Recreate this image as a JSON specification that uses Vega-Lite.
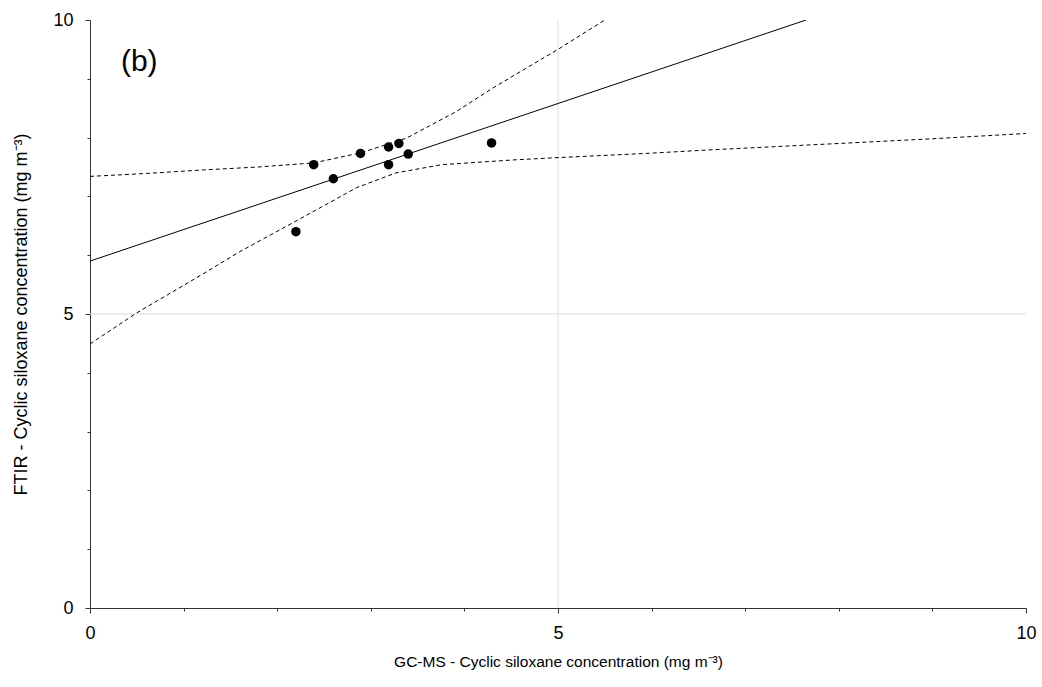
{
  "$schema": "https://vega.github.io/schema/vega-lite/v6.json",
  "width": 936,
  "height": 588,
  "autosize": {"type": "none"},
  "padding": {"left": 90, "top": 20, "right": 16, "bottom": 79},
  "background": "white",
  "config": {"view": {"stroke": null}, "font": "Liberation Sans"},
  "datasets": {
    "points": [
      {"gcms": 2.20, "ftir": 6.40},
      {"gcms": 2.39, "ftir": 7.54},
      {"gcms": 2.60, "ftir": 7.30},
      {"gcms": 2.89, "ftir": 7.73},
      {"gcms": 3.19, "ftir": 7.84},
      {"gcms": 3.30, "ftir": 7.90},
      {"gcms": 3.19, "ftir": 7.54},
      {"gcms": 3.40, "ftir": 7.72},
      {"gcms": 4.29, "ftir": 7.91}
    ],
    "fit": [
      {"gcms": 0, "ftir": 5.9},
      {"gcms": 7.65, "ftir": 10.0}
    ],
    "upper": [
      {"gcms": 0.0, "ftir": 7.34},
      {"gcms": 0.6, "ftir": 7.39},
      {"gcms": 1.21, "ftir": 7.45},
      {"gcms": 1.8, "ftir": 7.50},
      {"gcms": 2.39, "ftir": 7.57},
      {"gcms": 2.89, "ftir": 7.74},
      {"gcms": 3.38, "ftir": 7.99},
      {"gcms": 3.91, "ftir": 8.44},
      {"gcms": 4.30, "ftir": 8.84},
      {"gcms": 5.02, "ftir": 9.52},
      {"gcms": 5.50, "ftir": 10.0}
    ],
    "lower": [
      {"gcms": 0.0, "ftir": 4.49},
      {"gcms": 0.5, "ftir": 5.02},
      {"gcms": 1.1, "ftir": 5.58},
      {"gcms": 1.6, "ftir": 6.06},
      {"gcms": 2.2, "ftir": 6.58},
      {"gcms": 2.85, "ftir": 7.15},
      {"gcms": 3.27, "ftir": 7.40},
      {"gcms": 3.76, "ftir": 7.54},
      {"gcms": 4.52, "ftir": 7.62},
      {"gcms": 5.0, "ftir": 7.66},
      {"gcms": 5.93, "ftir": 7.73},
      {"gcms": 6.61, "ftir": 7.79},
      {"gcms": 8.0, "ftir": 7.90},
      {"gcms": 9.0, "ftir": 7.98},
      {"gcms": 10.0, "ftir": 8.07}
    ],
    "grid": [{"v": 5}],
    "label": [{"gcms": 0.33, "ftir": 9.13, "text": "(b)"}]
  },
  "resolve": {"axis": {"x": "independent", "y": "independent"}},
  "layer": [
    {
      "data": {"name": "grid"},
      "mark": {"type": "rule", "color": "#dddddd", "strokeWidth": 1},
      "encoding": {
        "x": {"field": "v", "type": "quantitative", "scale": {"domain": [0, 10], "nice": false}, "axis": null}
      }
    },
    {
      "data": {"name": "grid"},
      "mark": {"type": "rule", "color": "#dddddd", "strokeWidth": 1},
      "encoding": {
        "y": {"field": "v", "type": "quantitative", "scale": {"domain": [0, 10], "nice": false}, "axis": null}
      }
    },
    {
      "data": {"name": "upper"},
      "mark": {"type": "line", "color": "black", "strokeWidth": 1, "strokeDash": [4, 3], "clip": true},
      "encoding": {
        "x": {"field": "gcms", "type": "quantitative", "axis": null},
        "y": {"field": "ftir", "type": "quantitative", "axis": null}
      }
    },
    {
      "data": {"name": "lower"},
      "mark": {"type": "line", "color": "black", "strokeWidth": 1, "strokeDash": [4, 3], "clip": true},
      "encoding": {
        "x": {"field": "gcms", "type": "quantitative", "axis": null},
        "y": {"field": "ftir", "type": "quantitative", "axis": null}
      }
    },
    {
      "data": {"name": "fit"},
      "mark": {"type": "line", "color": "black", "strokeWidth": 1, "clip": true},
      "encoding": {
        "x": {"field": "gcms", "type": "quantitative", "axis": {"orient": "bottom", "values": [1, 2, 3, 4, 6, 7, 8, 9], "labels": false, "domain": false, "grid": false, "tickSize": 3, "tickColor": "#333333", "title": null}},
        "y": {"field": "ftir", "type": "quantitative", "axis": {"orient": "left", "values": [1, 2, 3, 4, 6, 7, 8, 9], "labels": false, "domain": false, "grid": false, "tickSize": 3, "tickColor": "#333333", "title": null}}
      }
    },
    {
      "data": {"name": "points"},
      "mark": {"type": "circle", "color": "black", "opacity": 1, "size": 90},
      "encoding": {
        "x": {"field": "gcms", "type": "quantitative", "axis": {"orient": "bottom", "values": [0, 5, 10], "format": "d", "grid": false, "tickSize": 5, "tickColor": "#333333", "domainColor": "#333333", "labelFontSize": 18, "labelFlush": false, "labelColor": "black", "labelPadding": 11, "title": "GC-MS - Cyclic siloxane concentration (mg m⁻³)", "titleFontSize": 15.5, "titleFontWeight": "normal", "titleColor": "black", "titlePadding": 12}},
        "y": {"field": "ftir", "type": "quantitative", "axis": {"orient": "left", "values": [0, 5, 10], "format": "d", "grid": false, "tickSize": 5, "tickColor": "#333333", "domainColor": "#333333", "labelFontSize": 18, "labelFlush": false, "labelColor": "black", "labelPadding": 12, "title": "FTIR - Cyclic siloxane concentration (mg m⁻³)", "titleFontSize": 18, "titleFontWeight": "normal", "titleColor": "black", "titlePadding": 22}}
      }
    },
    {
      "data": {"name": "label"},
      "mark": {"type": "text", "align": "left", "baseline": "alphabetic", "fontSize": 30, "color": "black"},
      "encoding": {
        "x": {"field": "gcms", "type": "quantitative", "axis": null},
        "y": {"field": "ftir", "type": "quantitative", "axis": null},
        "text": {"field": "text"}
      }
    }
  ]
}
